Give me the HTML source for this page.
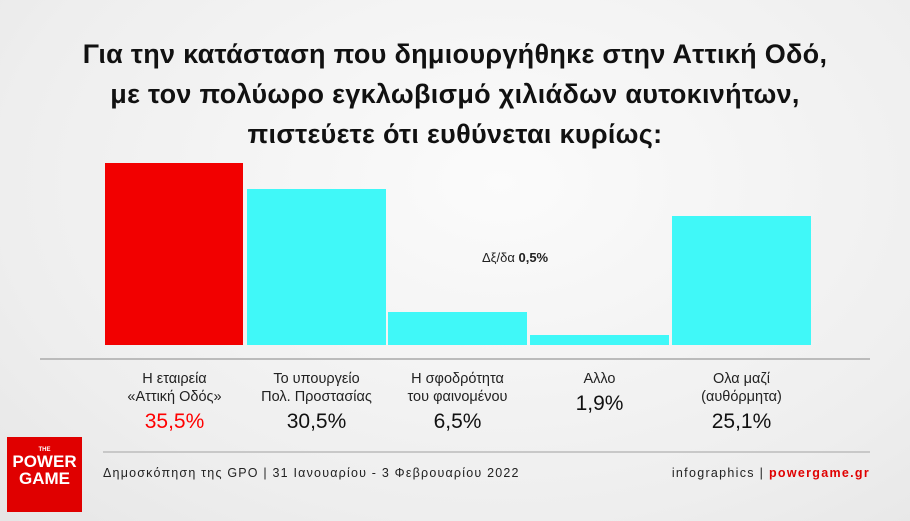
<!DOCTYPE html>
<html><head><meta charset="utf-8"><style>
body{margin:0;width:910px;height:521px;overflow:hidden;background:radial-gradient(ellipse at 55% 35%,#fbfbfb 0%,#eeeeee 70%,#e6e6e6 100%);font-family:"Liberation Sans","DejaVu Sans",sans-serif;position:relative}
.t{position:absolute;left:0;width:910px;top:34px;text-align:center;font-size:27px;font-weight:bold;line-height:40px;color:#111;letter-spacing:0.3px}
.b{position:absolute}
.l{position:absolute;top:370px;width:139px;text-align:center;font-size:14.5px;line-height:18px;color:#222}
.v{font-size:21px;line-height:28px;margin-top:2px;color:#111}
</style></head><body>
<div class="t">Για την κατάσταση που δημιουργήθηκε στην Αττική Οδό,<br>με τον πολύωρο εγκλωβισμό χιλιάδων αυτοκινήτων,<br>πιστεύετε ότι ευθύνεται κυρίως:</div>
<div class="b" style="left:105px;width:138px;top:163px;height:182px;background:#f20000"></div>
<div class="b" style="left:247px;width:139px;top:189px;height:156px;background:#40f8f8"></div>
<div class="b" style="left:388px;width:139px;top:312px;height:33px;background:#40f8f8"></div>
<div class="b" style="left:530px;width:139px;top:335px;height:10px;background:#40f8f8"></div>
<div class="b" style="left:672px;width:139px;top:216px;height:129px;background:#40f8f8"></div>
<div style="position:absolute;left:482px;top:250px;font-size:13px;color:#222">Δξ/δα <b>0,5%</b></div>
<div style="position:absolute;left:40px;top:358px;width:830px;height:2px;background:#bbb"></div>
<div class="l" style="left:105px">Η εταιρεία<br>«Αττική Οδός»<div class="v" style="color:#f00">35,5%</div></div>
<div class="l" style="left:247px">Το υπουργείο<br>Πολ. Προστασίας<div class="v">30,5%</div></div>
<div class="l" style="left:388px">Η σφοδρότητα<br>του φαινομένου<div class="v">6,5%</div></div>
<div class="l" style="left:530px">Αλλο<div class="v">1,9%</div></div>
<div class="l" style="left:672px">Ολα μαζί<br>(αυθόρμητα)<div class="v">25,1%</div></div>
<div style="position:absolute;left:103px;top:451px;width:767px;height:2px;background:#c8c8c8"></div>
<div style="position:absolute;left:7px;top:437px;width:75px;height:75px;background:#e00000;color:#fff;text-align:center;font-weight:bold;font-family:'Liberation Sans Narrow','Liberation Sans',sans-serif"><div style="font-size:6px;margin-top:10px">THE</div><div style="font-size:17px;line-height:17px">POWER<br>GAME</div></div>
<div style="position:absolute;left:103px;top:466px;font-size:12.5px;color:#222;letter-spacing:1.2px">Δημοσκόπηση της GPO | 31 Ιανουαρίου - 3 Φεβρουαρίου 2022</div>
<div style="position:absolute;right:40px;top:466px;font-size:12.5px;color:#222;letter-spacing:1.3px">infographics | <b style="color:#e00000">powergame.gr</b></div>
</body></html>
